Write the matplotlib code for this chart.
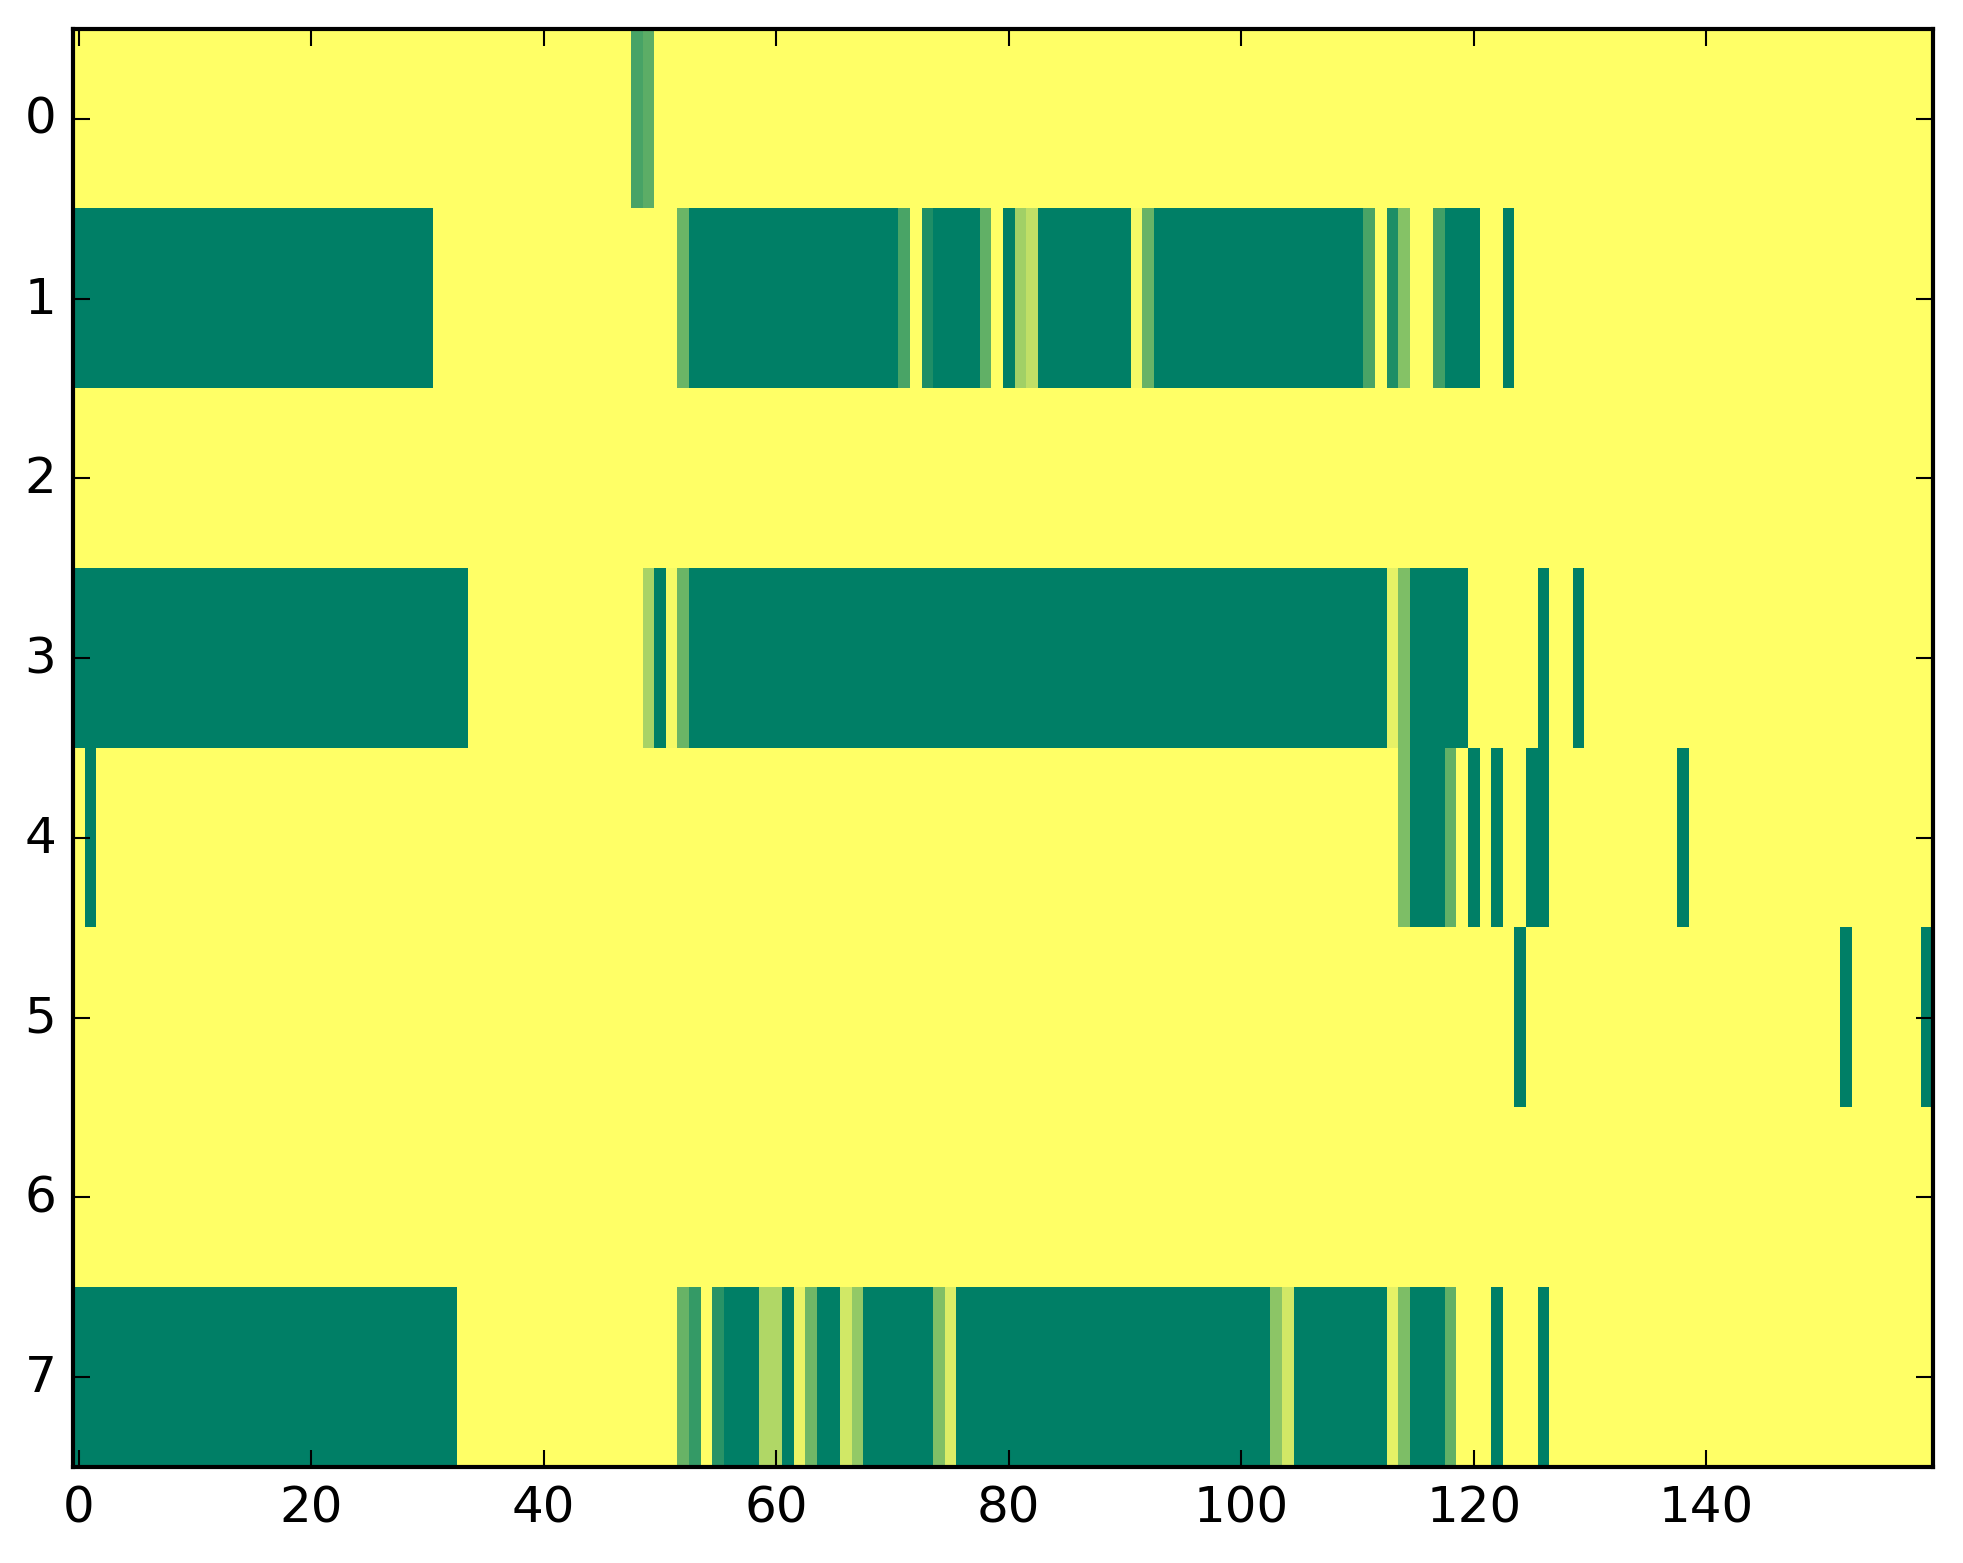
import matplotlib
matplotlib.use('Agg')
import matplotlib.pyplot as plt
import numpy as np

plt.style.use('classic')
plt.rcParams['font.family'] = ['DejaVu Sans']
plt.rcParams['font.size'] = 12

n_rows = 8
n_cols = 160
background = 1.0

# runs of (first column, last column, value) per row; everything else is background
row_0 = [(48, 48, 0.28), (49, 49, 0.36)]
row_1 = [(0, 30, 0.0), (52, 52, 0.42), (53, 70, 0.0), (71, 71, 0.29), (73, 73, 0.12),
         (74, 77, 0.0), (78, 78, 0.38), (80, 80, 0.0), (81, 81, 0.63), (82, 82, 0.75),
         (83, 90, 0.0), (91, 91, 0.96), (92, 92, 0.41), (93, 110, 0.0), (111, 111, 0.29),
         (113, 113, 0.12), (114, 114, 0.52), (117, 117, 0.26), (118, 120, 0.0),
         (123, 123, 0.0)]
row_2 = []
row_3 = [(0, 33, 0.0), (49, 49, 0.66), (50, 50, 0.0), (51, 51, 0.96), (52, 52, 0.42),
         (53, 112, 0.0), (113, 113, 0.9), (114, 114, 0.49), (115, 119, 0.0),
         (126, 126, 0.0), (129, 129, 0.0)]
row_4 = [(1, 1, 0.0), (114, 114, 0.49), (115, 117, 0.0), (118, 118, 0.38), (120, 120, 0.0),
         (122, 122, 0.0), (125, 126, 0.0), (138, 138, 0.0)]
row_5 = [(124, 124, 0.0), (152, 152, 0.0), (159, 159, 0.0)]
row_6 = []
row_7 = [(0, 32, 0.0), (52, 52, 0.41), (53, 53, 0.21), (55, 55, 0.16), (56, 58, 0.0),
         (59, 60, 0.69), (61, 61, 0.0), (62, 62, 0.92), (63, 63, 0.44), (64, 65, 0.0),
         (66, 66, 0.82), (67, 67, 0.58), (68, 73, 0.0), (74, 74, 0.5), (75, 75, 0.86),
         (76, 102, 0.0), (103, 103, 0.55), (104, 104, 0.82), (105, 112, 0.0),
         (113, 113, 0.9), (114, 114, 0.49), (115, 117, 0.0), (118, 118, 0.38),
         (122, 122, 0.0), (126, 126, 0.0)]

rows = [row_0, row_1, row_2, row_3, row_4, row_5, row_6, row_7]

grid = np.full((n_rows, n_cols), background)
for r, runs in enumerate(rows):
    for start, stop, val in runs:
        grid[r, start:stop + 1] = val

fig = plt.figure(figsize=(1963 / 300, 1564 / 300), dpi=300, facecolor='white')
ax = fig.add_axes([73 / 1963, (1564 - 1468) / 1564, (1933 - 73) / 1963, (1468 - 30) / 1564])
ax.imshow(grid, cmap='summer', vmin=0, vmax=1, aspect='auto', interpolation='nearest')
ax.set_xticks(np.arange(0, 141, 20))
ax.set_yticks(np.arange(0, 8))

fig.savefig('out.png', dpi=300, facecolor='white')
